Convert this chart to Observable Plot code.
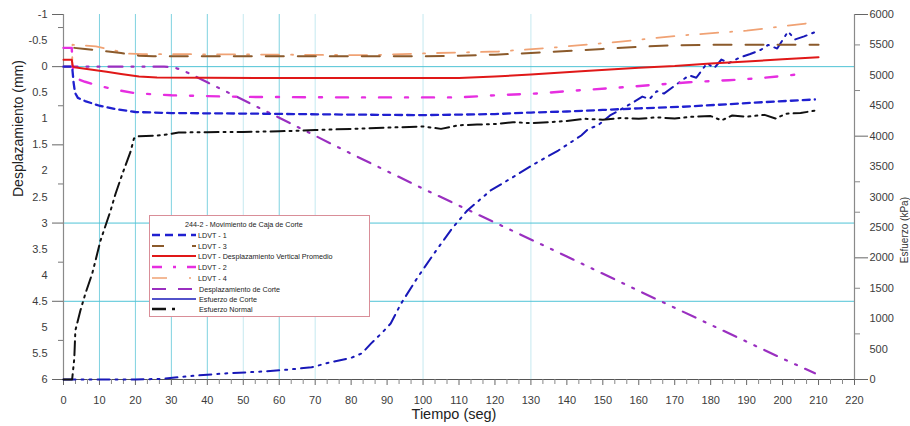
<!DOCTYPE html>
<html>
<head>
<meta charset="utf-8">
<script src="https://cdn.jsdelivr.net/npm/d3@7"></script>
<script src="https://cdn.jsdelivr.net/npm/@observablehq/plot@0.6"></script>
<style>
  html, body { margin: 0; padding: 0; background: #fff; }
  #wrap { position: relative; width: 910px; height: 426px; font-family: "Liberation Sans", Arial, sans-serif; }
  #legend { position: absolute; left: 149px; top: 215px; width: 219px; height: 100px; border: 1px solid #d98e98; background: #fff; font-size: 7.2px; color: #222; }
  #legend .row { position: absolute; left: 0; height: 10px; display: flex; align-items: center; }
  #legend .title { position: absolute; left: 35px; top: 4px; white-space: nowrap; }
</style>
</head>
<body>
<div id="wrap"></div>
<script>
// ---------- Data ----------
// Left axis: Desplazamiento (mm) — reversed, -1 at top, 6 at bottom
const leftTicks = [-1, -0.5, 0, 0.5, 1, 1.5, 2, 2.5, 3, 3.5, 4, 4.5, 5, 5.5, 6];
const rightTicks = [0, 500, 1000, 1500, 2000, 2500, 3000, 3500, 4000, 4500, 5000, 5500, 6000];
const xTicks = [0, 10, 20, 30, 40, 50, 60, 70, 80, 90, 100, 110, 120, 130, 140, 150, 160, 170, 180, 190, 200, 210, 220];
const gridXStrong = [10, 20, 30, 40, 60];
const gridXFaint = [50, 70, 100, 130];
const gridY = [0, 3, 4.5];

// LDVT - 1
const tL1 = [0, 2.4, 2.8, 3.2, 4, 6, 10, 15, 20, 30, 50, 80, 100, 120, 130, 140, 150, 160, 172, 185, 195, 209];
const vL1 = [0, 0, 0.3, 0.5, 0.6, 0.66, 0.75, 0.82, 0.87, 0.89, 0.9, 0.92, 0.93, 0.91, 0.88, 0.86, 0.83, 0.8, 0.77, 0.72, 0.68, 0.63];
// LDVT - 3
const tL3 = [3, 6, 10, 16, 21, 25, 60, 100, 110, 120, 130, 140, 150, 160, 170, 180, 195, 210];
const vL3 = [-0.36, -0.34, -0.31, -0.26, -0.21, -0.2, -0.2, -0.2, -0.21, -0.23, -0.26, -0.3, -0.34, -0.38, -0.41, -0.42, -0.42, -0.42];
// LDVT - Desplazamiento Vertical Promedio
const tAvg = [0, 2.3, 2.6, 3, 7, 12, 16, 21, 26, 60, 100, 110, 120, 130, 144, 160, 170, 180, 190, 200, 210];
const vAvg = [-0.13, -0.13, 0, 0.01, 0.05, 0.1, 0.14, 0.19, 0.21, 0.22, 0.22, 0.22, 0.19, 0.15, 0.09, 0.02, -0.01, -0.06, -0.1, -0.14, -0.18];
// LDVT - 2
const tL2 = [0, 2.3, 2.5, 3, 4, 6, 10, 15, 20, 30, 50, 80, 110, 120, 133, 142, 153, 164, 174, 185, 194, 207];
const vL2 = [-0.36, -0.36, 0, 0.15, 0.24, 0.29, 0.37, 0.45, 0.51, 0.55, 0.58, 0.59, 0.59, 0.55, 0.51, 0.46, 0.41, 0.35, 0.3, 0.26, 0.22, 0.13];
// LDVT - 4
const tL4 = [0, 2.4, 2.5, 5, 9, 13, 18, 22, 30, 60, 85, 103, 121, 137, 155, 172, 190, 208];
const vL4 = [0, 0, -0.42, -0.41, -0.39, -0.33, -0.25, -0.24, -0.24, -0.23, -0.22, -0.26, -0.29, -0.37, -0.48, -0.6, -0.69, -0.84];
// Desplazamiento de Corte
const tShear = [0, 28, 31, 33, 35, 40, 60, 80, 100, 120, 140, 160, 180, 200, 209];
const vShear = [0, 0, 0.02, 0.07, 0.13, 0.3, 0.98, 1.67, 2.34, 2.99, 3.64, 4.3, 4.95, 5.6, 5.88];

// Right axis: Esfuerzo (kPa)
// Esfuerzo de Corte
const tTau = [0, 20, 27, 36, 45, 55, 62, 69, 74, 80, 83, 85.5, 88.8, 91, 93.8, 98.5, 103, 108, 112.3, 118.8, 125, 131, 137.6, 144, 146, 148.6, 152, 158, 161, 163, 165, 167, 170, 174, 176, 179, 181, 183, 185, 188, 191, 194, 196, 198.5, 201.5, 203.5, 206, 209];
const vTau = [0, 0, 10, 60, 100, 130, 160, 200, 280, 356, 430, 590, 780, 920, 1240, 1680, 2066, 2477, 2778, 3107, 3326, 3545, 3764, 4011, 4120, 4175, 4340, 4540, 4650, 4610, 4740, 4700, 4830, 5000, 4960, 5200, 5120, 5260, 5200, 5290, 5350, 5420, 5500, 5440, 5720, 5590, 5640, 5710];
// Esfuerzo Normal
const tSig = [0, 2.4, 3, 3.3, 4.7, 6.1, 8, 10.3, 13.1, 14.5, 16.5, 18.6, 19.6, 21, 26, 28, 32, 40, 50, 60, 70, 80, 90, 100, 105, 110, 115, 120, 125, 130, 135, 140, 145, 150, 155, 160, 165, 170, 175, 180, 183, 186, 190, 195, 198, 201, 205, 209];
const vSig = [0, 0, 345, 805, 1134, 1414, 1743, 2285, 2778, 3058, 3400, 3737, 3962, 4000, 4011, 4020, 4060, 4066, 4070, 4080, 4100, 4120, 4140, 4160, 4120, 4180, 4190, 4200, 4230, 4215, 4230, 4250, 4285, 4270, 4300, 4285, 4310, 4290, 4320, 4330, 4260, 4340, 4320, 4350, 4290, 4370, 4380, 4420];

// ---------- helpers ----------
const KPA_MAX = 6000;
const toMm = k => 6 - k * 7 / KPA_MAX;          // map right-axis value into left-axis units
const fromMm = m => Math.round((6 - m) * KPA_MAX / 7);
const rows = (t, v, f = d => d) => t.map((x, i) => ({t: x, v: f(v[i])}));

const series = [
  {data: rows(tShear, vShear), stroke: "#9a2fc0", w: 2.2, dash: "14,9,2,9,2,9"},
  {data: rows(tTau, vTau, toMm), stroke: "#1818b8", w: 2, dash: "12,6,2,6,2,6"},
  {data: rows(tSig, vSig, toMm), stroke: "#111111", w: 2, dash: "14,5,2,5,2,5"},
  {data: rows(tL4, vL4), stroke: "#f0a274", w: 1.8, dash: "18,12,2,12"},
  {data: rows(tL3, vL3), stroke: "#8b5a2b", w: 2, dash: "18,14"},
  {data: rows(tL2, vL2), stroke: "#e62ee0", w: 2.4, dash: "12,14,3,14"},
  {data: rows(tL1, vL1), stroke: "#2020d0", w: 2.3, dash: "7,5"},
  {data: rows(tAvg, vAvg), stroke: "#e01818", w: 2, dash: null}
];

const leftMajor = [-1, 0, 1.5, 3, 4.5, 6];
const leftMinor = [-0.75, 0.75, 2.25, 3.75, 5.25];
const rightMajor = [0, 2000, 4000, 6000];
const rightMinor = [750, 1500, 2750, 3250, 4750, 5500];
const xMinor = d3.range(0, 221, 10 / 3).filter(d => Math.abs(d / 10 - Math.round(d / 10)) > 1e-6);

const txt = "#3c3c3c", axisCol = "#8a8a8a";

const chart = Plot.plot({
  width: 910,
  height: 426,
  marginLeft: 63,
  marginRight: 56,
  marginTop: 14,
  marginBottom: 47,
  style: {fontFamily: "'Liberation Sans', Arial, sans-serif", fontSize: "11px", background: "#fff", overflow: "visible"},
  x: {domain: [0, 220]},
  y: {domain: [6, -1]},
  marks: [
    Plot.ruleX(gridXFaint, {stroke: "#c6e9f0", strokeWidth: 1}),
    Plot.ruleX(gridXStrong, {stroke: "#7fd2e0", strokeWidth: 1}),
    Plot.ruleY(gridY, {stroke: "#4fc3d6", strokeWidth: 1}),
    // axis lines
    Plot.ruleX([0, 220], {stroke: axisCol, strokeWidth: 1.2}),
    Plot.ruleY([6], {stroke: "#555", strokeWidth: 1}),
    // left axis
    Plot.axisY(leftTicks, {anchor: "left", tickSize: 0, tickPadding: 16, tickFormat: d => String(d), label: null, fontSize: 11, color: txt}),
    Plot.axisY(leftMajor, {anchor: "left", tickSize: 11, tickFormat: () => "", label: null, stroke: "#666"}),
    Plot.axisY(leftMinor, {anchor: "left", tickSize: 5, tickFormat: () => "", label: null, stroke: "#777"}),
    // right axis
    Plot.axisY(rightTicks.map(toMm), {anchor: "right", tickSize: 0, tickPadding: 15, tickFormat: d => String(fromMm(d)), label: null, fontSize: 11, color: txt}),
    Plot.axisY(rightMajor.map(toMm), {anchor: "right", tickSize: 13, tickFormat: () => "", label: null, stroke: "#666"}),
    Plot.axisY(rightMinor.map(toMm), {anchor: "right", tickSize: 5, tickFormat: () => "", label: null, stroke: "#888"}),
    // bottom axis
    Plot.axisX(xTicks, {anchor: "bottom", tickSize: 0, tickPadding: 17, tickFormat: d => String(d), label: null, fontSize: 11, color: txt}),
    Plot.axisX(xTicks, {anchor: "bottom", tickSize: 6, tickFormat: () => "", label: null, stroke: "#666"}),
    Plot.axisX(xMinor, {anchor: "bottom", tickSize: 5, tickFormat: () => "", label: null, stroke: "#888"}),
    // series
    ...series.map(s => Plot.line(s.data, {x: "t", y: "v", stroke: s.stroke, strokeWidth: s.w, strokeDasharray: s.dash, curve: "linear"})),
    // axis titles
    Plot.text(["Desplazamiento (mm)"], {frameAnchor: "left", dx: -45, rotate: -90, fontSize: 14, fill: "#222"}),
    Plot.text(["Tiempo (seg)"], {frameAnchor: "bottom", dy: 39, dx: -5, fontSize: 14.5, fill: "#222"}),
    Plot.text(["Esfuerzo (kPa)"], {frameAnchor: "right", dx: 50, rotate: -90, fontSize: 10, fill: "#333"})
  ]
});

const wrap = document.getElementById("wrap");
wrap.appendChild(chart);

// ---------- Legend (inside the plot area) ----------
const legendTitle = "244-2 - Movimiento de Caja de Corte";
const legendItems = [
  {label: "LDVT - 1", stroke: "#2020d0", w: 2.5, dash: "8,5", tx: 48},
  {label: "LDVT - 3", stroke: "#8b5a2b", w: 1.8, dash: "12,28", tx: 48},
  {label: "LDVT - Desplazamiento Vertical Promedio", stroke: "#e01818", w: 2.2, dash: null, tx: 48},
  {label: "LDVT - 2", stroke: "#e62ee0", w: 2.5, dash: "10,11,3,11", tx: 48},
  {label: "LDVT - 4", stroke: "#f0a274", w: 1.4, dash: "15,22,2,40", tx: 48},
  {label: "Desplazamiento de Corte", stroke: "#9a2fc0", w: 2.2, dash: "14,12", tx: 49},
  {label: "Esfuerzo de Corte", stroke: "#1818b8", w: 1.5, dash: null, tx: 49},
  {label: "Esfuerzo Normal", stroke: "#111111", w: 2.5, dash: "14,6,3,30", tx: 49}
];
const legend = document.createElement("div");
legend.id = "legend";
const title = document.createElement("div");
title.className = "title";
title.textContent = legendTitle;
legend.appendChild(title);
const rowTops = [14, 25, 35, 46, 57, 68, 78, 88];
legendItems.forEach((it, i) => {
  const row = document.createElement("div");
  row.className = "row";
  row.style.top = rowTops[i] + "px";
  const ns = "http://www.w3.org/2000/svg";
  const svg = document.createElementNS(ns, "svg");
  svg.setAttribute("width", it.tx);
  svg.setAttribute("height", 10);
  svg.style.display = "block";
  const ln = document.createElementNS(ns, "line");
  ln.setAttribute("x1", 2); ln.setAttribute("x2", 46);
  ln.setAttribute("y1", 5); ln.setAttribute("y2", 5);
  ln.setAttribute("stroke", it.stroke);
  ln.setAttribute("stroke-width", it.w);
  if (it.dash) ln.setAttribute("stroke-dasharray", it.dash);
  svg.appendChild(ln);
  row.appendChild(svg);
  const span = document.createElement("span");
  span.textContent = it.label;
  span.style.whiteSpace = "nowrap";
  row.appendChild(span);
  legend.appendChild(row);
});
wrap.appendChild(legend);
</script>
</body>
</html>
